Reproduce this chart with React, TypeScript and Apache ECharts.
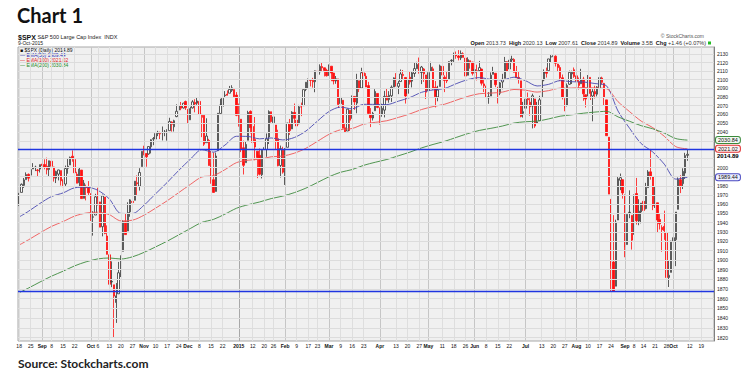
import React, { useEffect, useRef } from "react";
import * as echarts from "echarts";

// [day, open, high, low, close]
type Row = [number, number, number, number, number];

const aug2014: Row[] = [
  [18, 1958.36, 1971.99, 1958.36, 1971.74], [19, 1972.73, 1982.57, 1972.73, 1981.6], [20, 1980.46, 1988.57, 1977.68, 1986.51],
  [21, 1986.82, 1994.76, 1986.82, 1992.37], [22, 1992.6, 1993.54, 1984.76, 1988.4], [25, 1991.74, 2001.95, 1991.74, 1997.92],
  [26, 1998.59, 2005.04, 1998.59, 2000.02], [27, 2000.54, 2002.14, 1996.2, 2000.12], [28, 1997.42, 1998.55, 1990.52, 1996.74],
  [29, 1998.45, 2003.38, 1994.65, 2003.37],
];
const sep2014: Row[] = [
  [2, 2004.07, 2006.12, 1994.85, 2002.28], [3, 2003.57, 2009.28, 1998.14, 2000.72], [4, 2001.67, 2011.17, 1992.54, 1997.65],
  [5, 1998.0, 2007.71, 1990.1, 2007.71], [8, 2007.17, 2007.17, 1995.6, 2001.54], [9, 2000.73, 2001.01, 1984.61, 1988.44],
  [10, 1988.41, 1996.66, 1982.99, 1995.69], [11, 1992.85, 1997.65, 1985.93, 1997.45], [12, 1996.74, 1996.74, 1980.26, 1985.54],
  [15, 1986.04, 1987.18, 1978.48, 1984.13], [16, 1981.93, 2002.28, 1979.06, 1998.98], [17, 1999.3, 2010.74, 1993.29, 2001.57],
  [18, 2003.07, 2012.34, 2003.07, 2011.36], [19, 2012.74, 2019.26, 2006.59, 2010.4], [22, 2009.08, 2009.08, 1991.01, 1994.29],
  [23, 1992.78, 1995.41, 1982.77, 1982.77], [24, 1983.34, 1999.79, 1978.63, 1998.3], [25, 1997.32, 1997.32, 1965.99, 1965.99],
  [26, 1966.22, 1986.37, 1966.22, 1982.85], [29, 1978.96, 1981.28, 1964.04, 1977.8], [30, 1978.21, 1985.17, 1968.96, 1972.29],
];
const oct2014: Row[] = [
  [1, 1971.44, 1971.44, 1941.72, 1946.16], [2, 1945.83, 1952.32, 1926.03, 1946.17], [3, 1948.12, 1971.19, 1948.12, 1967.9],
  [6, 1970.01, 1977.84, 1958.43, 1964.82], [7, 1962.36, 1962.36, 1935.1, 1935.1], [8, 1935.55, 1970.36, 1925.25, 1968.89],
  [9, 1967.68, 1967.68, 1927.56, 1928.21], [10, 1925.63, 1936.98, 1906.05, 1906.13], [13, 1905.65, 1912.09, 1874.14, 1874.74],
  [14, 1877.11, 1898.71, 1871.79, 1877.7], [15, 1874.18, 1874.18, 1820.66, 1862.49], [16, 1855.95, 1876.01, 1835.02, 1862.76],
  [17, 1864.91, 1898.16, 1864.91, 1886.76], [20, 1885.62, 1905.03, 1882.3, 1904.01], [21, 1909.38, 1942.45, 1909.38, 1941.28],
  [22, 1941.29, 1949.31, 1926.83, 1927.11], [23, 1931.02, 1961.95, 1931.02, 1950.82], [24, 1951.59, 1965.27, 1946.27, 1964.58],
  [27, 1962.97, 1964.64, 1951.37, 1961.63], [28, 1964.14, 1985.05, 1964.14, 1985.05], [29, 1983.29, 1991.4, 1969.04, 1982.3],
  [30, 1979.49, 1999.4, 1974.75, 1994.65], [31, 2001.2, 2018.19, 2001.2, 2018.05],
];
const nov2014: Row[] = [
  [3, 2018.21, 2024.46, 2013.68, 2017.81], [4, 2015.81, 2015.98, 2001.01, 2012.1], [5, 2015.29, 2023.77, 2014.42, 2023.57],
  [6, 2023.33, 2031.61, 2015.86, 2031.21], [7, 2032.36, 2034.26, 2025.07, 2031.92], [10, 2032.01, 2038.7, 2030.17, 2038.26],
  [11, 2038.2, 2041.28, 2035.28, 2039.68], [12, 2037.75, 2040.33, 2031.95, 2038.25], [13, 2039.21, 2046.18, 2030.44, 2039.33],
  [14, 2039.74, 2042.22, 2035.2, 2039.82], [17, 2038.29, 2043.07, 2030.2, 2041.32], [18, 2041.48, 2056.08, 2041.48, 2051.8],
  [19, 2051.16, 2052.14, 2040.37, 2048.72], [20, 2045.87, 2053.84, 2040.49, 2052.75], [21, 2057.46, 2071.46, 2056.75, 2063.5],
  [24, 2065.07, 2070.17, 2065.07, 2069.41], [25, 2070.15, 2074.21, 2064.75, 2067.03], [26, 2067.36, 2073.29, 2066.62, 2072.83],
  [28, 2074.78, 2075.76, 2065.06, 2067.56],
];
const dec2014: Row[] = [
  [1, 2065.78, 2065.78, 2049.57, 2053.44], [2, 2053.77, 2068.77, 2053.77, 2066.55], [3, 2067.45, 2076.28, 2066.65, 2074.33],
  [4, 2073.64, 2077.34, 2062.34, 2071.92], [5, 2072.78, 2079.47, 2070.81, 2075.37], [8, 2074.84, 2075.78, 2054.27, 2060.31],
  [9, 2056.55, 2060.6, 2034.17, 2059.82], [10, 2058.86, 2058.86, 2024.26, 2026.14], [11, 2027.92, 2055.53, 2027.92, 2035.33],
  [12, 2030.36, 2032.25, 2002.33, 2002.33], [15, 2005.03, 2018.69, 1982.26, 1989.63], [16, 1986.71, 2016.89, 1972.56, 1972.74],
  [17, 1973.77, 2016.75, 1973.77, 2012.89], [18, 2018.98, 2061.23, 2018.98, 2061.23], [19, 2061.04, 2077.85, 2061.03, 2070.65],
  [22, 2069.28, 2078.76, 2069.28, 2078.54], [23, 2081.48, 2086.73, 2079.77, 2082.17], [24, 2083.25, 2087.56, 2081.86, 2081.88],
  [26, 2084.3, 2092.7, 2084.3, 2088.77], [29, 2087.63, 2093.55, 2085.75, 2090.57], [30, 2088.49, 2088.49, 2079.53, 2080.35],
  [31, 2082.11, 2085.58, 2057.94, 2058.9],
];
const jan2015: Row[] = [
  [2, 2058.9, 2072.36, 2046.04, 2058.2], [5, 2054.44, 2054.44, 2017.34, 2020.58], [6, 2022.15, 2030.25, 1992.44, 2002.61],
  [7, 2005.55, 2029.61, 2005.55, 2025.9], [8, 2030.61, 2064.08, 2030.61, 2062.14], [9, 2063.45, 2064.43, 2038.33, 2044.81],
  [12, 2046.13, 2049.3, 2022.58, 2028.26], [13, 2031.58, 2056.93, 2008.25, 2023.03], [14, 2018.4, 2018.4, 1988.44, 2011.27],
  [15, 2013.75, 2021.35, 1991.47, 1992.67], [16, 1992.25, 2020.46, 1988.12, 2019.42], [20, 2020.76, 2028.94, 2004.49, 2022.55],
  [21, 2020.19, 2038.29, 2012.04, 2032.12], [22, 2034.3, 2064.62, 2026.38, 2063.15], [23, 2062.98, 2062.98, 2050.54, 2051.82],
  [26, 2050.42, 2057.62, 2040.97, 2057.09], [27, 2047.86, 2047.86, 2019.91, 2029.55], [28, 2032.34, 2042.49, 2001.49, 2002.16],
  [29, 2002.45, 2024.64, 1989.18, 2021.25], [30, 2019.35, 2023.32, 1993.38, 1994.99],
];
const feb2015: Row[] = [
  [2, 1996.67, 2021.66, 1980.9, 2020.85], [3, 2022.71, 2050.3, 2022.71, 2050.03], [4, 2048.86, 2054.74, 2036.72, 2041.51],
  [5, 2043.45, 2063.55, 2043.45, 2062.52], [6, 2062.28, 2072.4, 2049.97, 2055.47], [9, 2053.47, 2056.16, 2041.88, 2046.74],
  [10, 2049.38, 2070.86, 2048.62, 2068.59], [11, 2068.55, 2073.48, 2057.99, 2068.53], [12, 2069.98, 2088.53, 2069.98, 2088.48],
  [13, 2088.78, 2097.03, 2086.7, 2096.99], [17, 2096.47, 2101.3, 2089.8, 2100.34], [18, 2099.16, 2100.23, 2092.15, 2099.68],
  [19, 2099.25, 2102.13, 2090.79, 2097.45], [20, 2097.65, 2110.61, 2085.44, 2110.3], [23, 2109.83, 2110.05, 2103.0, 2109.66],
  [24, 2109.1, 2117.94, 2105.87, 2115.48], [25, 2115.3, 2119.59, 2109.89, 2113.86], [26, 2113.91, 2113.91, 2103.76, 2110.74],
  [27, 2110.88, 2112.74, 2103.75, 2104.5],
];
const mar2015: Row[] = [
  [2, 2105.23, 2117.52, 2104.5, 2117.39], [3, 2115.76, 2115.76, 2098.26, 2107.78], [4, 2107.72, 2107.72, 2094.49, 2098.53],
  [5, 2098.54, 2104.25, 2095.22, 2101.04], [6, 2100.91, 2100.91, 2067.27, 2071.26], [9, 2072.25, 2083.49, 2072.21, 2079.43],
  [10, 2076.14, 2076.14, 2044.16, 2044.16], [11, 2044.69, 2050.08, 2039.69, 2040.24], [12, 2041.1, 2066.41, 2041.1, 2065.95],
  [13, 2064.56, 2064.56, 2041.17, 2053.4], [16, 2055.35, 2081.41, 2055.35, 2081.19], [17, 2080.59, 2080.59, 2065.08, 2074.28],
  [18, 2072.84, 2106.85, 2061.23, 2099.5], [19, 2098.69, 2098.69, 2085.56, 2089.27], [20, 2090.32, 2113.92, 2090.32, 2108.1],
  [23, 2107.99, 2114.86, 2104.42, 2104.42], [24, 2103.94, 2107.63, 2091.5, 2091.5], [25, 2093.1, 2097.43, 2061.05, 2061.05],
  [26, 2059.94, 2067.15, 2045.5, 2056.15], [27, 2055.78, 2062.83, 2052.96, 2061.02], [30, 2064.11, 2088.97, 2064.11, 2086.24],
  [31, 2084.05, 2084.05, 2067.04, 2067.89],
];
const apr2015: Row[] = [
  [1, 2067.63, 2067.63, 2048.38, 2059.69], [2, 2060.03, 2072.17, 2057.32, 2066.96], [6, 2064.87, 2086.99, 2056.52, 2080.62],
  [7, 2080.79, 2089.81, 2076.1, 2076.33], [8, 2076.94, 2086.69, 2073.3, 2081.9], [9, 2081.29, 2093.31, 2074.29, 2091.18],
  [10, 2091.51, 2102.61, 2091.51, 2102.06], [13, 2102.03, 2107.65, 2092.33, 2092.43], [14, 2092.28, 2098.62, 2083.24, 2095.84],
  [15, 2097.82, 2111.91, 2097.82, 2106.63], [16, 2105.96, 2111.3, 2100.02, 2104.99], [17, 2102.58, 2102.58, 2072.37, 2081.18],
  [20, 2084.11, 2103.94, 2084.11, 2100.4], [21, 2102.82, 2109.64, 2094.38, 2097.29], [22, 2098.27, 2109.98, 2091.05, 2107.96],
  [23, 2107.21, 2120.49, 2103.19, 2112.93], [24, 2112.8, 2120.92, 2112.8, 2117.69], [27, 2119.29, 2125.92, 2107.04, 2108.92],
  [28, 2108.35, 2116.04, 2094.89, 2114.76], [29, 2112.49, 2113.65, 2097.41, 2106.85], [30, 2105.52, 2105.52, 2077.59, 2085.51],
];
const may2015: Row[] = [
  [1, 2087.38, 2108.41, 2087.38, 2108.29], [4, 2110.23, 2120.95, 2110.23, 2114.49], [5, 2112.63, 2115.24, 2088.46, 2089.46],
  [6, 2091.26, 2098.42, 2067.93, 2080.15], [7, 2079.96, 2092.9, 2074.99, 2088.0], [8, 2092.13, 2117.66, 2092.13, 2116.1],
  [11, 2115.56, 2117.69, 2104.58, 2105.33], [12, 2102.87, 2105.06, 2085.57, 2099.12], [13, 2099.62, 2110.19, 2096.04, 2098.48],
  [14, 2100.43, 2121.45, 2100.43, 2121.1], [15, 2122.07, 2123.89, 2116.81, 2122.73], [18, 2121.3, 2131.78, 2120.01, 2129.2],
  [19, 2129.45, 2133.02, 2124.5, 2127.83], [20, 2127.79, 2134.72, 2122.59, 2125.85], [21, 2125.55, 2134.28, 2122.95, 2130.82],
  [22, 2130.36, 2132.15, 2126.06, 2126.06], [26, 2125.34, 2125.34, 2099.18, 2104.2], [27, 2105.13, 2126.22, 2105.13, 2123.48],
  [28, 2122.27, 2122.27, 2112.86, 2120.79], [29, 2120.66, 2120.66, 2104.89, 2107.39],
];
const jun2015: Row[] = [
  [1, 2108.64, 2119.15, 2102.54, 2111.73], [2, 2110.41, 2117.59, 2099.14, 2109.6], [3, 2110.64, 2121.92, 2109.61, 2114.07],
  [4, 2112.35, 2112.89, 2093.23, 2095.84], [5, 2095.09, 2100.99, 2085.67, 2092.83], [8, 2092.34, 2093.01, 2079.11, 2079.28],
  [9, 2079.07, 2085.62, 2072.14, 2080.15], [10, 2081.12, 2108.5, 2081.12, 2105.2], [11, 2106.24, 2115.02, 2106.24, 2108.86],
  [12, 2107.43, 2107.43, 2091.33, 2094.11], [15, 2091.34, 2091.34, 2072.49, 2084.43], [16, 2084.26, 2097.4, 2082.1, 2096.29],
  [17, 2097.4, 2106.79, 2088.86, 2100.44], [18, 2101.58, 2126.65, 2101.58, 2121.24], [19, 2121.06, 2121.64, 2109.45, 2109.99],
  [22, 2112.5, 2129.87, 2112.5, 2122.85], [23, 2123.16, 2128.03, 2119.89, 2124.2], [24, 2123.65, 2125.1, 2108.58, 2108.58],
  [25, 2109.96, 2116.04, 2101.78, 2102.31], [26, 2102.62, 2108.92, 2095.38, 2101.49], [29, 2098.63, 2098.63, 2056.64, 2057.64],
  [30, 2061.19, 2074.28, 2056.32, 2063.11],
];
const jul2015: Row[] = [
  [1, 2067.0, 2082.78, 2067.0, 2077.42], [2, 2078.03, 2085.06, 2071.02, 2076.78], [6, 2073.95, 2078.61, 2058.4, 2068.76],
  [7, 2069.52, 2083.74, 2044.02, 2081.34], [8, 2077.66, 2077.66, 2044.66, 2046.68], [9, 2049.73, 2074.28, 2049.73, 2051.31],
  [10, 2052.74, 2081.31, 2052.74, 2076.62], [13, 2080.03, 2099.88, 2080.03, 2099.6], [14, 2099.72, 2111.98, 2098.18, 2108.95],
  [15, 2109.01, 2114.14, 2102.49, 2107.4], [16, 2110.55, 2124.42, 2110.55, 2124.29], [17, 2126.8, 2128.91, 2119.88, 2126.64],
  [20, 2126.85, 2132.82, 2123.66, 2128.28], [21, 2127.55, 2128.49, 2115.4, 2119.21], [22, 2118.21, 2118.51, 2110.0, 2114.15],
  [23, 2114.16, 2116.87, 2098.63, 2102.15], [24, 2102.24, 2106.01, 2077.09, 2079.65], [27, 2078.19, 2078.19, 2063.52, 2067.64],
  [28, 2070.75, 2095.6, 2069.09, 2093.25], [29, 2094.7, 2110.6, 2094.08, 2108.57], [30, 2106.78, 2110.48, 2094.97, 2108.63],
  [31, 2111.6, 2114.24, 2102.07, 2103.84],
];
const aug2015: Row[] = [
  [3, 2104.49, 2105.7, 2087.31, 2098.04], [4, 2097.68, 2102.51, 2088.6, 2093.32], [5, 2095.27, 2112.66, 2095.27, 2099.84],
  [6, 2100.75, 2103.32, 2075.53, 2083.56], [7, 2082.61, 2082.61, 2067.91, 2077.57], [10, 2080.98, 2105.35, 2080.98, 2104.18],
  [11, 2102.66, 2102.66, 2076.49, 2084.07], [12, 2081.1, 2089.06, 2052.09, 2086.05], [13, 2086.19, 2092.93, 2078.26, 2083.39],
  [14, 2083.15, 2092.45, 2080.61, 2091.54], [17, 2089.7, 2102.87, 2079.3, 2102.44], [18, 2101.99, 2103.47, 2094.14, 2096.92],
  [19, 2095.69, 2096.17, 2070.53, 2079.61], [20, 2076.61, 2076.61, 2035.73, 2035.73], [21, 2034.08, 2034.08, 1970.89, 1970.89],
  [24, 1965.15, 1965.15, 1867.01, 1893.21], [25, 1898.08, 1948.04, 1867.08, 1867.61], [26, 1872.75, 1943.09, 1872.75, 1940.51],
  [27, 1942.77, 1989.6, 1942.77, 1987.66], [28, 1986.06, 1993.48, 1975.19, 1988.87], [31, 1986.73, 1986.73, 1965.98, 1972.18],
];
const sep2015: Row[] = [
  [1, 1970.09, 1970.09, 1903.07, 1913.85], [2, 1916.52, 1948.91, 1916.52, 1948.86], [3, 1950.79, 1975.01, 1944.72, 1951.13],
  [4, 1947.76, 1947.76, 1911.21, 1921.22], [8, 1927.3, 1970.42, 1927.3, 1969.41], [9, 1971.45, 1988.63, 1937.88, 1942.04],
  [10, 1941.59, 1965.29, 1937.19, 1952.29], [11, 1951.45, 1961.05, 1939.19, 1961.05], [14, 1963.06, 1963.06, 1948.27, 1953.03],
  [15, 1955.1, 1983.19, 1954.3, 1978.09], [16, 1978.02, 1997.26, 1977.93, 1995.31], [17, 1995.33, 2020.86, 1986.73, 1990.2],
  [18, 1989.66, 1989.66, 1953.45, 1958.03], [21, 1960.84, 1979.64, 1955.8, 1966.97], [22, 1961.39, 1961.39, 1929.22, 1942.74],
  [23, 1943.24, 1949.52, 1932.57, 1938.76], [24, 1934.81, 1937.17, 1908.92, 1932.24], [25, 1935.93, 1952.89, 1921.5, 1931.34],
  [28, 1929.18, 1929.18, 1879.21, 1881.77], [29, 1881.9, 1899.48, 1871.91, 1884.09], [30, 1887.14, 1920.53, 1887.14, 1920.03],
];
const oct2015: Row[] = [
  [1, 1919.65, 1927.21, 1900.7, 1923.82], [2, 1921.77, 1951.36, 1893.7, 1951.36], [5, 1954.33, 1989.17, 1954.33, 1987.05],
  [6, 1986.63, 1991.62, 1971.99, 1979.92], [7, 1982.34, 1999.31, 1976.44, 1995.83], [8, 1994.01, 2016.5, 1987.53, 2013.43],
  [9, 2013.73, 2020.13, 2007.61, 2014.89],
];

const months: [number, number, Row[]][] = [
  [2014, 8, aug2014], [2014, 9, sep2014], [2014, 10, oct2014], [2014, 11, nov2014], [2014, 12, dec2014],
  [2015, 1, jan2015], [2015, 2, feb2015], [2015, 3, mar2015], [2015, 4, apr2015], [2015, 5, may2015],
  [2015, 6, jun2015], [2015, 7, jul2015], [2015, 8, aug2015], [2015, 9, sep2015], [2015, 10, oct2015],
];

// empty trading days shown to the right of the last candle
const futureDates = [
  "2015-10-12", "2015-10-13", "2015-10-14", "2015-10-15", "2015-10-16",
  "2015-10-19", "2015-10-20", "2015-10-21", "2015-10-22", "2015-10-23", "2015-10-26",
];

// moving averages, read at the first day and then every 5th trading day (last = final day)
const ema50 = [
  1946, 1952.1, 1960.7, 1968.2, 1972.2, 1977.8, 1978.5, 1975.1, 1965.6, 1949.9, 1949.8, 1958.8, 1971.2, 1983.6, 1996.9,
  2009.3, 2020.0, 2017.3, 2025.2, 2035.1, 2034.9, 2032.2, 2033.2, 2031.0, 2033.7, 2041.0, 2052.3, 2063.2, 2068.3, 2066.3,
  2071.5, 2071.4, 2071.2, 2075.1, 2079.3, 2085.3, 2088.1, 2089.8, 2095.3, 2100.1, 2102.4, 2100.3, 2099.7, 2102.9, 2098.8,
  2092.7, 2094.6, 2098.9, 2097.6, 2097.3, 2095.5, 2092.9, 2063.8, 2044.1, 2026.9, 2017.5, 2003.9, 1987.3, 1989.4,
];
const ema100 = [
  1916, 1921.5, 1928.9, 1935.9, 1941.1, 1947.0, 1950.3, 1951.2, 1948.5, 1941.9, 1942.6, 1948.0, 1955.6, 1963.6, 1972.5,
  1981.4, 1989.7, 1991.2, 1997.8, 2005.6, 2008.3, 2009.4, 2012.1, 2012.9, 2016.1, 2021.6, 2029.4, 2037.3, 2042.5, 2043.9,
  2048.8, 2050.9, 2052.7, 2056.5, 2060.5, 2065.5, 2068.9, 2071.6, 2076.2, 2080.6, 2083.7, 2084.4, 2085.6, 2088.6, 2087.8,
  2085.6, 2087.3, 2090.2, 2090.3, 2090.8, 2090.4, 2089.5, 2074.5, 2063.1, 2052.3, 2044.9, 2035.1, 2023.4, 2021.0,
];
const ema200 = [
  1866, 1870.8, 1877.1, 1883.2, 1888.4, 1894.0, 1898.3, 1901.3, 1902.3, 1901.2, 1903.5, 1908.2, 1914.0, 1920.1, 1926.8,
  1933.6, 1940.2, 1943.4, 1949.1, 1955.5, 1959.3, 1962.3, 1966.0, 1968.7, 1972.5, 1977.4, 1983.6, 1989.9, 1994.9, 1997.9,
  2002.6, 2006.0, 2009.1, 2013.2, 2017.3, 2022.0, 2025.9, 2029.4, 2033.8, 2038.1, 2041.7, 2044.1, 2046.7, 2050.1, 2051.6,
  2052.3, 2054.8, 2057.9, 2059.5, 2061.3, 2062.6, 2063.5, 2057.1, 2052.1, 2047.1, 2043.6, 2038.7, 2032.5, 2030.8,
];

const yTicks = [
  1820, 1830, 1840, 1850, 1860, 1870, 1880, 1890, 1900, 1910, 1920, 1930, 1940, 1950, 1960, 1970,
  1980, 1990, 2000, 2010, 2020, 2030, 2040, 2050, 2060, 2070, 2080, 2090, 2100, 2110, 2120, 2130,
];
// tick labels hidden behind the value boxes on the right edge
const yTicksCovered = [1990, 2010, 2020, 2030];

const xTickLabels: [string, string][] = [
  ["2014-08-18", "18"], ["2014-08-25", "25"], ["2014-09-02", "Sep"], ["2014-09-08", "8"], ["2014-09-15", "15"],
  ["2014-09-22", "22"], ["2014-10-01", "Oct"], ["2014-10-06", "6"], ["2014-10-13", "13"], ["2014-10-20", "20"],
  ["2014-10-27", "27"], ["2014-11-03", "Nov"], ["2014-11-10", "10"], ["2014-11-17", "17"], ["2014-11-24", "24"],
  ["2014-12-01", "Dec"], ["2014-12-08", "8"], ["2014-12-15", "15"], ["2014-12-22", "22"], ["2015-01-02", "2015"],
  ["2015-01-12", "12"], ["2015-01-20", "20"], ["2015-01-26", "26"], ["2015-02-02", "Feb"], ["2015-02-09", "9"],
  ["2015-02-17", "17"], ["2015-02-23", "23"], ["2015-03-02", "Mar"], ["2015-03-09", "9"], ["2015-03-16", "16"],
  ["2015-03-23", "23"], ["2015-04-01", "Apr"], ["2015-04-13", "13"], ["2015-04-20", "20"], ["2015-04-27", "27"],
  ["2015-05-01", "May"], ["2015-05-11", "11"], ["2015-05-18", "18"], ["2015-05-26", "26"], ["2015-06-01", "Jun"],
  ["2015-06-08", "8"], ["2015-06-15", "15"], ["2015-06-22", "22"], ["2015-07-01", "Jul"], ["2015-07-13", "13"],
  ["2015-07-20", "20"], ["2015-07-27", "27"], ["2015-08-03", "Aug"], ["2015-08-10", "10"], ["2015-08-17", "17"],
  ["2015-08-24", "24"], ["2015-09-01", "Sep"], ["2015-09-08", "8"], ["2015-09-14", "14"], ["2015-09-21", "21"],
  ["2015-09-28", "28"], ["2015-10-01", "Oct"], ["2015-10-12", "12"], ["2015-10-19", "19"],
];

const supportLevel = 1867.01;
const resistanceLevel = 2020.86;
const lastClose = 2014.89;

const pad = (n: number) => (n < 10 ? "0" + n : "" + n);
const FONT = "'Liberation Sans', Arial, sans-serif";
const HIDDEN_LINE = { width: 0, color: "rgba(0,0,0,0)", type: "solid" };

export default function App() {
  const ref = useRef<HTMLDivElement>(null);

  useEffect(() => {
    if (!ref.current) return;
    const chart = echarts.init(ref.current, null, { renderer: "svg" });

    const dates: string[] = [];
    const candles: any[] = [];
    let prevClose = 0;
    months.forEach(([y, m, rows]) => {
      rows.forEach(([d, o, h, l, c]) => {
        dates.push(`${y}-${pad(m)}-${pad(d)}`);
        const stroke = prevClose === 0 || c >= prevClose ? "#333333" : "#ff1010";
        const fill = c > o ? "#ffffff" : stroke;
        candles.push({
          value: [o, c, l, h],
          itemStyle: { color: fill, color0: fill, borderColor: stroke, borderColor0: stroke, borderWidth: 0.8 },
        });
        prevClose = c;
      });
    });
    const nData = dates.length;
    const categories = dates.concat(futureDates);

    const sampleIdx = [0];
    for (let i = 4; i < nData; i += 5) sampleIdx.push(i);
    const toLine = (vals: number[]) => {
      const arr: (number | null)[] = categories.map(() => null);
      sampleIdx.forEach((idx, k) => {
        if (k < vals.length) arr[idx] = vals[k];
      });
      return arr;
    };

    const labelMap = new Map(xTickLabels);
    const monthNames = new Set(["Sep", "Oct", "Nov", "Dec", "2015", "Jan", "Feb", "Mar", "Apr", "May", "Jun", "Jul", "Aug"]);

    const gridLines: any[] = [];
    xTickLabels.forEach(([d, t]) => {
      const isMonth = monthNames.has(t);
      gridLines.push({
        xAxis: d,
        label: { show: false },
        lineStyle: { color: t === "2015" ? "#a8a8a8" : isMonth ? "#c6c6c6" : "#dedede", width: 1, type: "solid" },
      });
    });
    yTicks.forEach((v) => {
      gridLines.push({
        yAxis: v,
        label: { show: yTicksCovered.indexOf(v) < 0, formatter: String(v) },
        lineStyle: { color: "#dcdcdc", width: 1, type: "solid" },
      });
    });

    const boxLabel = (text: string, border: string, bg: string) => ({
      show: true,
      position: "end",
      distance: 2,
      formatter: text,
      fontSize: 5.5,
      color: "#111",
      backgroundColor: bg,
      borderColor: border,
      borderWidth: 1,
      borderRadius: 2,
      padding: [0, 2, 0, 2],
      fontFamily: FONT,
      opacity: 1,
    });

    const option: any = {
      animation: false,
      backgroundColor: "#ffffff",
      textStyle: { fontFamily: FONT },
      grid: {
        left: 18, right: 36, top: 47, bottom: 40,
        show: true, backgroundColor: "#f0f0f0", borderColor: "#a8a8a8", borderWidth: 1,
      },
      xAxis: {
        type: "category",
        data: categories,
        boundaryGap: true,
        axisLine: { show: false },
        axisTick: { show: false },
        splitLine: { show: false },
        axisLabel: {
          interval: (_i: number, v: string) => labelMap.has(v),
          formatter: (v: string) => {
            const t = labelMap.get(v) || "";
            return monthNames.has(t) ? `{m|${t}}` : t;
          },
          fontSize: 5,
          color: "#111",
          margin: 2,
          fontFamily: FONT,
          rich: { m: { fontWeight: "bold", fontSize: 5, fontFamily: FONT, color: "#111" } },
        },
      },
      yAxis: {
        type: "log",
        position: "right",
        min: 1816.7,
        max: 2138.4,
        axisLine: { show: true, lineStyle: { color: "#808080" } },
        axisTick: { show: false },
        axisLabel: { show: false },
        splitLine: { show: false },
      },
      graphic: [
        { type: "text", x: 17, y: 15, style: { text: "Chart 1", font: "bold 20px Lato, 'Open Sans', sans-serif", fill: "#111", verticalAlign: "middle" } },
        { type: "text", x: 18, y: 363, style: { text: "Source: Stockcharts.com", font: "bold 12px Lato, 'Open Sans', sans-serif", fill: "#222", verticalAlign: "middle" } },
        {
          type: "text", x: 18, y: 37,
          style: {
            text: "{b|$SPX} S&P 500 Large Cap Index  INDX",
            font: `5.5px ${FONT}`, fill: "#222", verticalAlign: "middle",
            rich: { b: { font: `bold 7px ${FONT}`, fill: "#111" } },
          },
        },
        { type: "text", x: 18, y: 43, style: { text: "9-Oct-2015", font: `5px ${FONT}`, fill: "#222", verticalAlign: "middle" } },
        { type: "text", x: 20, y: 50, style: { text: "■ $SPX (Daily) 2014.89", font: `5px ${FONT}`, fill: "#111", verticalAlign: "middle" } },
        { type: "text", x: 20, y: 55, style: { text: "— EMA(50) 1989.44", font: `5px ${FONT}`, fill: "#2b2bb0", verticalAlign: "middle" } },
        { type: "text", x: 20, y: 60, style: { text: "— EMA(100) 2021.02", font: `5px ${FONT}`, fill: "#e01818", verticalAlign: "middle" } },
        { type: "text", x: 20, y: 65, style: { text: "— EMA(200) 2030.84", font: `5px ${FONT}`, fill: "#1e8a1e", verticalAlign: "middle" } },
        { type: "text", x: 704, y: 36, style: { text: "© StockCharts.com", font: `5px ${FONT}`, fill: "#555", align: "right", verticalAlign: "middle" } },
        {
          type: "text", x: 706, y: 43,
          style: {
            text: "{b|Open} 2013.73  {b|High} 2020.13  {b|Low} 2007.61  {b|Close} 2014.89  {b|Volume} 3.5B  {b|Chg} +1.46 (+0.07%)",
            font: `5.5px ${FONT}`, fill: "#333", align: "right", verticalAlign: "middle",
            rich: { b: { font: `bold 5.5px ${FONT}`, fill: "#111" } },
          },
        },
        { type: "rect", shape: { x: 708, y: 41.5, width: 3, height: 3 }, style: { fill: "#22bb22" } },
      ],
      series: [
        {
          name: "grid",
          type: "line",
          data: categories.map(() => null),
          symbol: "none",
          silent: true,
          z: 1,
          markLine: {
            silent: true,
            symbol: ["none", "none"],
            animation: false,
            label: { show: true, position: "end", distance: 3, fontSize: 5, color: "#222", fontFamily: FONT },
            data: gridLines,
          },
        },
        {
          name: "$SPX",
          type: "candlestick",
          data: candles,
          barWidth: 1.9,
          z: 3,
          silent: true,
        },
        {
          name: "EMA(50)", type: "line", data: toLine(ema50), connectNulls: true, symbol: "none", smooth: 0.3,
          lineStyle: { color: "#4848b0", width: 0.9 }, z: 4, silent: true,
        },
        {
          name: "EMA(100)", type: "line", data: toLine(ema100), connectNulls: true, symbol: "none", smooth: 0.3,
          lineStyle: { color: "#ee5555", width: 0.9 }, z: 4, silent: true,
        },
        {
          name: "EMA(200)", type: "line", data: toLine(ema200), connectNulls: true, symbol: "none", smooth: 0.3,
          lineStyle: { color: "#3d8a3d", width: 0.9 }, z: 4, silent: true,
        },
        {
          name: "levels",
          type: "line",
          data: categories.map(() => null),
          symbol: "none",
          silent: true,
          z: 6,
          markLine: {
            silent: true,
            symbol: ["none", "none"],
            animation: false,
            data: [
              { yAxis: resistanceLevel, label: { show: false }, lineStyle: { color: "#1f35e0", width: 1.4, type: "solid" } },
              { yAxis: supportLevel, label: { show: false }, lineStyle: { color: "#1f35e0", width: 1.4, type: "solid" } },
              { yAxis: ema200[ema200.length - 1], lineStyle: HIDDEN_LINE, label: boxLabel("2030.84", "#3a8a3a", "#f2faf2") },
              { yAxis: ema100[ema100.length - 1], lineStyle: HIDDEN_LINE, label: boxLabel("2021.02", "#e03030", "#fff0f0") },
              {
                yAxis: lastClose, lineStyle: HIDDEN_LINE,
                label: { show: true, position: "end", distance: 3, offset: [0, 2], formatter: "2014.89", fontSize: 6, fontWeight: "bold", color: "#000", fontFamily: FONT, opacity: 1 },
              },
              { yAxis: ema50[ema50.length - 1], lineStyle: HIDDEN_LINE, label: boxLabel("1989.44", "#4848c0", "#eef0ff") },
            ],
          },
        },
      ],
    };

    chart.setOption(option);
    return () => chart.dispose();
  }, []);

  return (
    <div
      ref={ref}
      style={{ position: "absolute", left: 0, top: 0, width: 750, height: 381, background: "#fff" }}
    />
  );
}
